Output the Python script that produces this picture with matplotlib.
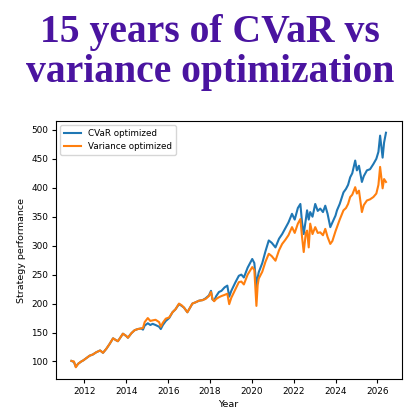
import matplotlib
matplotlib.use("Agg")
import matplotlib.pyplot as plt
import matplotlib.ticker as mticker

# values (decimal year, strategy value)
years = [2011.38, 2011.50, 2011.59, 2011.70, 2011.85, 2011.95, 2012.10, 2012.25, 2012.40, 2012.57,
         2012.75, 2012.89, 2013.05, 2013.20, 2013.37, 2013.50, 2013.60, 2013.75, 2013.84, 2014.00,
         2014.08, 2014.25, 2014.40, 2014.55, 2014.71, 2014.80, 2014.88, 2015.03, 2015.15, 2015.26,
         2015.40, 2015.57, 2015.65, 2015.75, 2015.89, 2016.05, 2016.21, 2016.35, 2016.52, 2016.65,
         2016.76, 2016.92, 2017.05, 2017.16, 2017.30, 2017.48, 2017.65, 2017.79, 2017.95, 2018.05,
         2018.12, 2018.20, 2018.30, 2018.43, 2018.55, 2018.70, 2018.83, 2018.92, 2019.02, 2019.22,
         2019.38, 2019.50, 2019.62, 2019.80, 2020.02, 2020.12, 2020.22, 2020.28, 2020.33, 2020.50,
         2020.65, 2020.81, 2020.95, 2021.13, 2021.30, 2021.45, 2021.60, 2021.75, 2021.92, 2022.05,
         2022.20, 2022.32, 2022.40, 2022.48, 2022.58, 2022.64, 2022.72, 2022.79, 2022.90, 2023.03,
         2023.15, 2023.27, 2023.40, 2023.51, 2023.62, 2023.75, 2023.85, 2024.00, 2024.07, 2024.20,
         2024.38, 2024.50, 2024.60, 2024.70, 2024.80, 2024.94, 2025.02, 2025.12, 2025.26, 2025.35,
         2025.50, 2025.65, 2025.81, 2025.95, 2026.05, 2026.13, 2026.25, 2026.32, 2026.41]

cvar = [101, 99, 91, 96, 100, 102, 106, 110, 112, 116,
        119, 115, 122, 130, 140, 137, 135, 143, 148, 144,
        141, 149, 154, 156, 157, 155, 162, 166, 163, 165,
        163, 160, 156, 163, 170, 175, 185, 190, 199, 196,
        193, 185, 193, 200, 202, 205, 206, 209, 214, 222,
        207, 205, 213, 220, 222, 228, 231, 212, 222, 237,
        248, 250, 245, 262, 277, 270, 228, 245, 254, 270,
        290, 309, 305, 297, 312, 320, 330, 340, 355, 345,
        365, 372, 340, 320, 345, 361, 345, 358, 350, 372,
        360, 364, 358, 369, 355, 332, 340, 352, 361, 372,
        392, 398, 405, 418, 425, 447, 430, 438, 410, 420,
        430, 432, 441, 450, 462, 490, 452, 478, 495]

variance = [101, 100, 90, 96, 100, 102, 106, 110, 112, 116,
            119, 115, 122, 130, 140, 137, 135, 143, 148, 144,
            141, 149, 154, 156, 157, 158, 168, 175, 170, 171,
            172, 168, 160, 167, 174, 176, 185, 190, 200, 197,
            193, 185, 193, 200, 202, 205, 206, 208, 213, 220,
            208, 204, 208, 211, 213, 215, 217, 199, 210, 225,
            237, 238, 233, 250, 263, 258, 196, 232, 243, 255,
            272, 286, 282, 274, 292, 303, 310, 318, 332, 322,
            338, 346, 315, 289, 322, 326, 297, 338, 320, 332,
            322, 323, 318, 329, 315, 303, 308, 325, 332, 345,
            361, 365, 372, 384, 388, 401, 390, 395, 358, 370,
            378, 380, 384, 390, 405, 436, 399, 415, 410]

fig = plt.figure(figsize=(4.2, 4.2), dpi=100)

title_color = '#4a14a0'
fig.text(0.5, 1 - 42/420, '15 years of CVaR vs', ha='center', va='baseline',
         fontsize=28.5, fontweight='bold', family='Liberation Serif', color=title_color)
fig.text(0.5, 1 - 82/420, 'variance optimization', ha='center', va='baseline',
         fontsize=28.5, fontweight='bold', family='Liberation Serif', color=title_color)

ax = fig.add_axes([0.1326, 0.0976, 0.9564 - 0.1326, 0.7119 - 0.0976])
ax.plot(years, cvar, color='tab:blue', lw=1.5, label='CVaR optimized')
ax.plot(years, variance, color='tab:orange', lw=1.5, label='Variance optimized')

ax.xaxis.set_major_locator(mticker.MultipleLocator(2))
ax.xaxis.set_major_formatter(mticker.FormatStrFormatter('%d'))
ax.yaxis.set_major_locator(mticker.MultipleLocator(50))
ax.tick_params(labelsize=6.4, length=3, width=0.8, pad=2.5)
ax.set_xlabel('Year', fontsize=6.8, labelpad=3)
ax.set_ylabel('Strategy performance', fontsize=6.8, labelpad=4)
ax.legend(loc='upper left', fontsize=6.3)

fig.savefig('out.png', dpi=100)
